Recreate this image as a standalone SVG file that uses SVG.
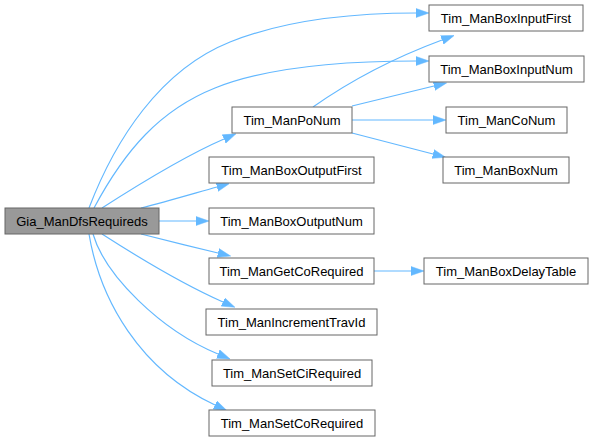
<svg xmlns="http://www.w3.org/2000/svg" width="594" height="443" viewBox="0 0 594 443">
<style>
.n rect{fill:#ffffff;stroke:#666666;stroke-width:1}
.n.hl rect{fill:#999999}
.n text{font-family:"Liberation Sans",Arial,sans-serif;font-size:13px;fill:#000000;text-anchor:middle}
.e path{fill:none;stroke:#63b8ff;stroke-width:1.2;marker-end:url(#ah)}
</style>
<defs>
<marker id="ah" viewBox="0 0 13 10" refX="0" refY="5" markerUnits="userSpaceOnUse" markerWidth="13" markerHeight="10" orient="auto">
<path d="M0,0.5 L13,5 L0,9.5 Z" fill="#63b8ff" stroke="#63b8ff" stroke-width="0.5"/>
</marker>
</defs>
<rect width="594" height="443" fill="#ffffff"/>
<g id="edges" class="e">
<path d="M89,208 C115,140 160,70 230,42 C290,18 360,13 416,13"/>
<path d="M94,208 C125,150 160,110 215,88 C270,66 350,61 416,61"/>
<path d="M102,208 C130,190 180,158 224,139"/>
<path d="M141,208 C165,202 192,194 217,187"/>
<path d="M159,221 L196,221"/>
<path d="M141,234 C165,240 193,247 218,253"/>
<path d="M102,234 C130,252 180,283 223,302"/>
<path d="M93,234 C105,275 160,330 218,354"/>
<path d="M89,234 C100,300 140,370 215,405"/>
<path d="M313,107 C340,88 380,63 442,40"/>
<path d="M352,106 L434,86"/>
<path d="M352,120 L433,120"/>
<path d="M352,133 L433,154"/>
<path d="M374,271 L411,271"/>
</g>
<g id="Gia_ManDfsRequireds" class="n hl"><rect x="5" y="208" width="154" height="26"/><text x="82" y="225.5">Gia_ManDfsRequireds</text></g>
<g id="Tim_ManBoxInputFirst" class="n"><rect x="429" y="5" width="154" height="26"/><text x="506" y="22.5">Tim_ManBoxInputFirst</text></g>
<g id="Tim_ManBoxInputNum" class="n"><rect x="429" y="56" width="155" height="26"/><text x="506.5" y="73.5">Tim_ManBoxInputNum</text></g>
<g id="Tim_ManPoNum" class="n"><rect x="232" y="107" width="120" height="26"/><text x="292" y="124.5">Tim_ManPoNum</text></g>
<g id="Tim_ManCoNum" class="n"><rect x="446" y="107" width="121" height="26"/><text x="506.5" y="124.5">Tim_ManCoNum</text></g>
<g id="Tim_ManBoxOutputFirst" class="n"><rect x="209" y="157" width="165" height="26"/><text x="291.5" y="174.5">Tim_ManBoxOutputFirst</text></g>
<g id="Tim_ManBoxNum" class="n"><rect x="443" y="157" width="126" height="26"/><text x="506" y="174.5">Tim_ManBoxNum</text></g>
<g id="Tim_ManBoxOutputNum" class="n"><rect x="209" y="208" width="165" height="26"/><text x="291.5" y="225.5">Tim_ManBoxOutputNum</text></g>
<g id="Tim_ManGetCoRequired" class="n"><rect x="209" y="258" width="165" height="26"/><text x="291.5" y="275.5">Tim_ManGetCoRequired</text></g>
<g id="Tim_ManBoxDelayTable" class="n"><rect x="424" y="258" width="164" height="26"/><text x="506" y="275.5">Tim_ManBoxDelayTable</text></g>
<g id="Tim_ManIncrementTravId" class="n"><rect x="206" y="309" width="171" height="26"/><text x="291.5" y="326.5">Tim_ManIncrementTravId</text></g>
<g id="Tim_ManSetCiRequired" class="n"><rect x="212" y="360" width="160" height="26"/><text x="292" y="377.5">Tim_ManSetCiRequired</text></g>
<g id="Tim_ManSetCoRequired" class="n"><rect x="209" y="410" width="166" height="26"/><text x="292" y="427.5">Tim_ManSetCoRequired</text></g>
</svg>
